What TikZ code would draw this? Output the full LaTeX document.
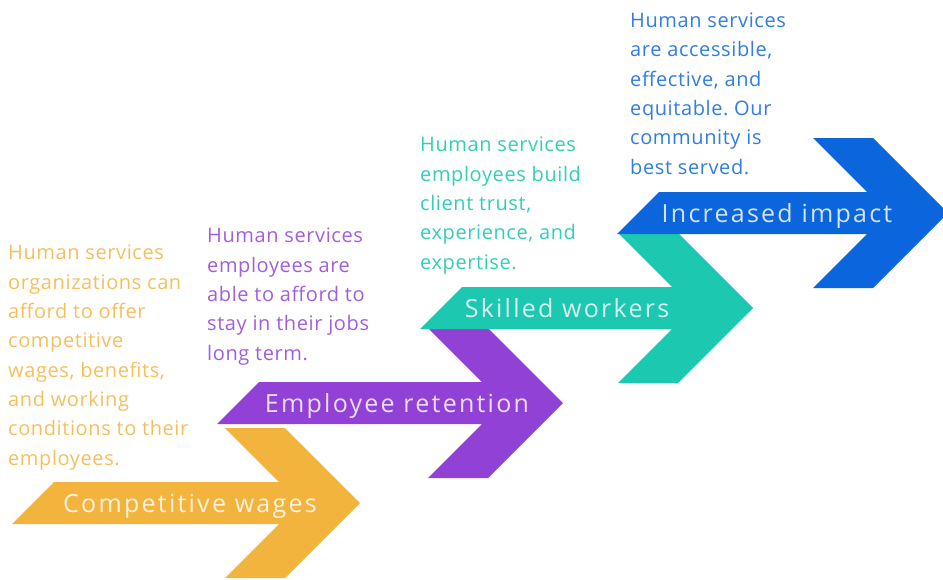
\documentclass[tikz,border=0pt]{standalone}
\usepackage{fontspec}
\setmainfont{Open Sans}[LetterSpace=3]
\newfontfamily\bandfont{Open Sans}[LetterSpace=9]
\usetikzlibrary{positioning}
\definecolor{wages-yellow}{HTML}{F3B43E}
\definecolor{retention-purple}{HTML}{9241D6}
\definecolor{skilled-teal}{HTML}{1CC8B0}
\definecolor{impact-blue}{HTML}{0B66DE}
\frenchspacing

\begin{document}
\begin{tikzpicture}[x=1pt, y=-1pt,
    desc/.style={anchor=base west, inner sep=0pt, align=left,
        font=\fontsize{20}{29.3}\selectfont},
    bandlabel/.style={anchor=base, inner sep=0pt,
        font=\bandfont\fontsize{25}{25}\selectfont}]
    \useasboundingbox (0,0) rectangle (943,579);

    % Step arrows, lowest first so each band lies over the chevron below it
    \foreach \tx/\ty/\lx/\cx/\col/\name/\lbl in {
        360/503/12/190/wages-yellow/wages/Competitive wages,
        563/403/217/397/retention-purple/retention/Employee retention,
        753/308/420/567/skilled-teal/skilled/Skilled workers,
        948/213/617/777/impact-blue/impact/Increased impact} {
        \fill[\col] (\lx,\ty+21) -- (\lx+42,\ty-21) -- (\tx-81,\ty-21)
            -- (\tx-135,\ty-75) -- (\tx-75,\ty-75) -- (\tx,\ty)
            -- (\tx-75,\ty+75) -- (\tx-135,\ty+75) -- (\tx-81,\ty+21) -- cycle;
        \node[bandlabel, text=white!82!\col] (\name) at (\cx,\ty+9) {\lbl};
    }

    % Step texts (base anchor sits on the last line)
    \node[desc, text=wages-yellow!85!white] (wagestext) at (8,465)
        {Human services\\organizations can\\afford to offer\\competitive\\wages, benefits,\\and working\\conditions to their\\employees.};
    \node[desc, text=retention-purple!85!white] (retentiontext) at (207,360)
        {Human services\\employees are\\able to afford to\\stay in their jobs\\long term.};
    \node[desc, text=skilled-teal!90!white] (skilledtext) at (420,269)
        {Human services\\employees build\\client trust,\\experience, and\\expertise.};
    \node[desc, text=impact-blue!85!white] (impacttext) at (630,174)
        {Human services\\are accessible,\\effective, and\\equitable. Our\\community is\\best served.};
\end{tikzpicture}
\end{document}
